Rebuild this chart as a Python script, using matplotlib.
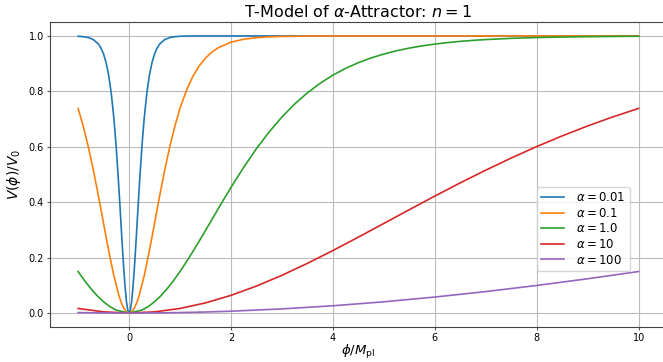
import matplotlib
matplotlib.use("Agg")
import matplotlib.pyplot as plt

labels = [r"$\alpha = 0.01$", r"$\alpha = 0.1$", r"$\alpha = 1.0$", r"$\alpha = 10$", r"$\alpha = 100$"]

x_a001 = [-1, -0.9, -0.8, -0.7, -0.6, -0.55, -0.5, -0.45, -0.4, -0.35, -0.3, -0.275, -0.25, -0.225, -0.2, -0.175,
          -0.15, -0.125, -0.1, -0.075, -0.05, -0.025, 0,
          0.025, 0.05, 0.075, 0.1, 0.125, 0.15, 0.175, 0.2, 0.225, 0.25, 0.275, 0.3, 0.35, 0.4, 0.45, 0.5, 0.55,
          0.6, 0.7, 0.8, 0.9, 1.0, 1.2, 1.5, 2, 10]
y_a001 = [0.9989, 0.9974, 0.9942, 0.9869, 0.9706, 0.9561, 0.9347, 0.9035, 0.8584, 0.7947, 0.7073, 0.6537, 0.5931, 0.5259, 0.4532, 0.3763,
          0.2979, 0.2211, 0.1498, 0.0882, 0.0405, 0.0104, 0.0,
          0.0104, 0.0405, 0.0882, 0.1498, 0.2211, 0.2979, 0.3763, 0.4532, 0.5259, 0.5931, 0.6537, 0.7073, 0.7947, 0.8584, 0.9035, 0.9347, 0.9561,
          0.9706, 0.9869, 0.9942, 0.9974, 0.9989, 0.9998, 1.0, 1.0, 1.0]

x_a01 = [-1, -0.9, -0.8, -0.7, -0.6, -0.5, -0.4, -0.3, -0.2, -0.15, -0.1, -0.05, 0,
         0.05, 0.1, 0.15, 0.2, 0.3, 0.4, 0.5, 0.6, 0.7, 0.8, 0.9, 1.0, 1.125, 1.25, 1.375, 1.5, 1.625, 1.75,
         2.0, 2.25, 2.5, 2.75, 3.0, 3.5, 4.0, 5.0, 10]
y_a01 = [0.7385, 0.6751, 0.6007, 0.5156, 0.4220, 0.3233, 0.2255, 0.1362, 0.0638, 0.0366, 0.0165, 0.0042, 0.0,
         0.0042, 0.0165, 0.0366, 0.0638, 0.1362, 0.2255, 0.3233, 0.4220, 0.5156, 0.6007, 0.6751, 0.7385, 0.8031, 0.8533, 0.8914, 0.9202, 0.9415, 0.9573,
         0.9774, 0.9881, 0.9937, 0.9967, 0.9983, 0.9995, 0.9999, 1.0, 1.0]

x_a1 = [-1, -0.875, -0.75, -0.625, -0.5, -0.375, -0.25, 0, 0.25, 0.375, 0.5, 0.625, 0.75, 0.875, 1.0,
        1.125, 1.25, 1.375, 1.5, 1.625, 1.75, 1.875, 2.0, 2.25, 2.5, 2.75, 3.0, 3.25, 3.5, 3.75, 4.0, 4.25, 4.5, 4.75,
        5.0, 5.25, 5.5, 5.75, 6.0, 6.25, 6.5, 6.75, 7.0, 7.5, 8.0, 8.5, 9.0, 9.5, 10]
y_a1 = [0.1498, 0.1175, 0.0882, 0.0624, 0.0405, 0.0231, 0.0104, 0.0, 0.0104, 0.0231, 0.0405, 0.0624, 0.0882, 0.1175, 0.1498,
        0.1845, 0.2211, 0.2590, 0.2979, 0.3371, 0.3763, 0.4151, 0.4532, 0.5259, 0.5931, 0.6537, 0.7073, 0.7543, 0.7947, 0.8291, 0.8584, 0.8830, 0.9035, 0.9206,
        0.9347, 0.9465, 0.9561, 0.9641, 0.9706, 0.9760, 0.9804, 0.9840, 0.9869, 0.9913, 0.9942, 0.9961, 0.9974, 0.9983, 0.9989]

x_a10 = [-1, -0.5, 0, 0.5, 1.0, 1.5, 2.0, 2.5, 3.0, 3.5, 4.0, 4.5, 5.0, 5.5, 6.0, 6.5, 7.0, 7.5, 8.0, 8.5, 9.0, 9.5, 10]
y_a10 = [0.0165, 0.0042, 0.0, 0.0042, 0.0165, 0.0366, 0.0638, 0.0973, 0.1362, 0.1793, 0.2255, 0.2739, 0.3233, 0.3730, 0.4220, 0.4698, 0.5156, 0.5594, 0.6007, 0.6393, 0.6751, 0.7082, 0.7385]

x_a100 = [-1, -0.5, 0, 0.5, 1, 1.5, 2, 3, 4, 5, 6, 7, 8, 9, 10]
y_a100 = [0.0017, 0.0004, 0.0, 0.0004, 0.0017, 0.0037, 0.0066, 0.0149, 0.0262, 0.0405, 0.0577, 0.0774, 0.0995, 0.1237, 0.1498]

series = [(x_a001, y_a001), (x_a01, y_a01), (x_a1, y_a1), (x_a10, y_a10), (x_a100, y_a100)]

fig = plt.figure(figsize=(6.63, 3.62), dpi=100)
ax = fig.add_axes([0.0755, 0.097, 0.93, 0.842])
for (xs, ys), lab in zip(series, labels):
    ax.plot(xs, ys, label=lab, lw=1.2)

ax.set_title(r"T-Model of $\alpha$-Attractor: $n = 1$", fontsize=11.5, pad=4)
ax.set_xlabel(r"$\phi/M_{\rm pl}$", fontsize=9.5, labelpad=0)
ax.set_ylabel(r"$V(\phi)/V_0$", fontsize=10, labelpad=4)
ax.tick_params(labelsize=7, length=2.5, pad=2, color="#555555")
for s in ax.spines.values():
    s.set_color("#444444")
ax.grid(True, color="#bbbbbb", lw=0.8)
ax.legend(loc="upper right", bbox_to_anchor=(0.940, 0.459), borderaxespad=0, fontsize=8.5,
          labelspacing=0.22, borderpad=0.35, handlelength=2.0, handletextpad=1.0)
fig.savefig("out.png", dpi=100)
